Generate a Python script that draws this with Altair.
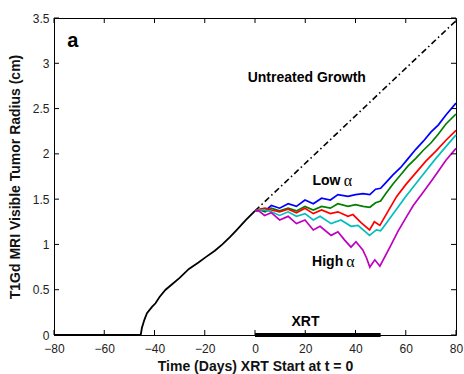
import altair as alt
import pandas as pd

# ---- data ----
pre_t = [-80, -45.5, -45, -44, -43, -41, -39.6, -38, -35.6, -33, -30, -26.3, -22.5, -19.6, -16, -13, -10, -7.6, -3.6, 0]
pre_r = [0, 0, 0.08, 0.17, 0.24, 0.31, 0.35, 0.42, 0.50, 0.56, 0.63, 0.73, 0.80, 0.86, 0.93, 1.00, 1.08, 1.15, 1.27, 1.37]

untreated_t = [0, 80]
untreated_r = [1.37, 3.47]

blue_t = [0, 2, 4, 6.5, 9.8, 13.2, 16.5, 19.9, 23.2, 26.5, 30, 33, 37, 40, 43, 45.7, 48, 50, 52, 55, 58, 61, 64, 67, 70, 73, 76, 80]
blue_r = [1.37, 1.38, 1.37, 1.43, 1.40, 1.45, 1.42, 1.49, 1.45, 1.51, 1.49, 1.55, 1.53, 1.55, 1.56, 1.55, 1.61, 1.62, 1.68, 1.77, 1.85, 1.95, 2.05, 2.14, 2.24, 2.32, 2.43, 2.56]

green_t = [0, 2, 4, 6.5, 9.8, 13.2, 16.5, 19.9, 23.2, 26.5, 30, 33, 37, 40, 43, 45.7, 48, 50, 52, 55, 58, 61, 64, 67, 70, 73, 76, 80]
green_r = [1.37, 1.38, 1.36, 1.40, 1.37, 1.40, 1.37, 1.42, 1.38, 1.42, 1.40, 1.45, 1.42, 1.44, 1.42, 1.41, 1.46, 1.48, 1.56, 1.67, 1.77, 1.87, 1.95, 2.04, 2.12, 2.22, 2.33, 2.44]

red_t = [0, 2, 4, 6.5, 9.8, 13.2, 16.5, 19.9, 23.2, 26.5, 30, 33, 37, 39, 42.2, 45.6, 47.5, 49.7, 52.4, 56.4, 60, 64, 68, 72, 76, 80]
red_r = [1.37, 1.39, 1.40, 1.38, 1.36, 1.39, 1.35, 1.40, 1.34, 1.38, 1.34, 1.36, 1.31, 1.33, 1.24, 1.16, 1.25, 1.21, 1.34, 1.53, 1.66, 1.79, 1.92, 2.03, 2.15, 2.26]

cyan_t = [0, 2, 4, 6.5, 9.8, 13.2, 16.5, 19.9, 23.2, 25.9, 30.3, 34.2, 38.2, 41, 45.6, 48.3, 50, 51.6, 55, 60, 64, 68, 72, 76, 80]
cyan_r = [1.37, 1.38, 1.38, 1.36, 1.32, 1.36, 1.31, 1.34, 1.27, 1.31, 1.23, 1.27, 1.20, 1.21, 1.10, 1.16, 1.15, 1.21, 1.34, 1.53, 1.67, 1.81, 1.95, 2.08, 2.21]

magenta_t = [0, 1.5, 3.8, 6.5, 9.8, 13.2, 16.5, 19.9, 23.2, 25.9, 30.3, 33, 35.6, 38.2, 40.2, 42.9, 44.4, 45.7, 47.7, 49.7, 53.7, 57, 60.4, 63, 67, 71, 76, 80]
magenta_r = [1.37, 1.37, 1.32, 1.35, 1.27, 1.31, 1.23, 1.27, 1.16, 1.20, 1.10, 1.14, 1.05, 0.97, 1.03, 0.94, 0.85, 0.75, 0.83, 0.76, 0.97, 1.15, 1.31, 1.43, 1.58, 1.73, 1.93, 2.06]

series_names = ["Blue", "Green", "Red", "Cyan", "Magenta"]
series_colors = ["#0000ff", "#008000", "#ff0000", "#00bfbf", "#bf00bf"]

xrt_start = [0]
xrt_end = [50]

x_ticks = [-80, -60, -40, -20, 0, 20, 40, 60, 80]
y_ticks = [0, 0.5, 1, 1.5, 2, 2.5, 3, 3.5]

# ---- tables ----
pre_df = pd.DataFrame({"t": pre_t, "r": pre_r})
unt_df = pd.DataFrame({"t": untreated_t, "r": untreated_r})
frames = []
for name, tt, rr in zip(series_names,
                        [blue_t, green_t, red_t, cyan_t, magenta_t],
                        [blue_r, green_r, red_r, cyan_r, magenta_r]):
    frames.append(pd.DataFrame({"t": tt, "r": rr, "s": name}))
ser_df = pd.concat(frames, ignore_index=True)
xrt_df = pd.DataFrame({"t0": xrt_start, "t1": xrt_end, "r": [0]})
xt_df = pd.DataFrame({"t": x_ticks})
yt_df = pd.DataFrame({"r": y_ticks})

W, H = 402, 317
xs = alt.Scale(domain=[-80, 80], nice=False, zero=False)
ys = alt.Scale(domain=[0, 3.5], nice=False, zero=False)

FONT = "Liberation Sans"

x_axis = alt.Axis(values=x_ticks, ticks=False, domain=False, grid=False, format="d",
                  labelPadding=8, labelFontSize=12, labelColor="#222222", labelFont=FONT,
                  title="Time (Days) XRT Start at t = 0", titleFontSize=14, titleFont=FONT,
                  titleFontWeight="bold", titleColor="#111111",
                  titleX=W / 2, titleY=31, titleBaseline="middle", titleAnchor="middle",
                  labelFlush=False, labelOverlap=False)
y_axis = alt.Axis(values=y_ticks, ticks=False, domain=False, grid=False, format="~r",
                  labelPadding=5, labelFontSize=12, labelColor="#222222", labelFont=FONT,
                  title="T1Gd MRI Visible Tumor Radius (cm)", titleFontSize=14, titleFont=FONT,
                  titleFontWeight="bold", titleColor="#111111",
                  titleX=-39, titleY=H / 2, titleAngle=-90, titleBaseline="middle", titleAlign="center",
                  labelFlush=False, labelOverlap=False)

pre_line = alt.Chart(pre_df).mark_line(color="black", strokeWidth=1.8).encode(
    x=alt.X("t:Q", scale=xs, axis=x_axis),
    y=alt.Y("r:Q", scale=ys, axis=y_axis),
)

unt_line = alt.Chart(unt_df).mark_line(color="black", strokeWidth=1.6, strokeDash=[6, 3, 1.5, 3]).encode(
    x=alt.X("t:Q", scale=xs), y=alt.Y("r:Q", scale=ys)
)

ser_lines = alt.Chart(ser_df).mark_line(strokeWidth=1.7).encode(
    x=alt.X("t:Q", scale=xs), y=alt.Y("r:Q", scale=ys),
    color=alt.Color("s:N", scale=alt.Scale(domain=series_names, range=series_colors), legend=None),
    order=alt.Order("t:Q"),
)

xrt_bar = alt.Chart(xrt_df).mark_rule(color="black", strokeWidth=4).encode(
    x=alt.X("t0:Q", scale=xs), x2="t1:Q", y=alt.Y("r:Q", scale=ys)
)

tick_len = 5
top_ticks = alt.Chart(xt_df).mark_rule(color="black", strokeWidth=1).encode(
    x=alt.X("t:Q", scale=xs), y=alt.value(0), y2=alt.value(tick_len))
bot_ticks = alt.Chart(xt_df).mark_rule(color="black", strokeWidth=1).encode(
    x=alt.X("t:Q", scale=xs), y=alt.value(H), y2=alt.value(H - tick_len))
left_ticks = alt.Chart(yt_df).mark_rule(color="black", strokeWidth=1).encode(
    y=alt.Y("r:Q", scale=ys), x=alt.value(0), x2=alt.value(tick_len))
right_ticks = alt.Chart(yt_df).mark_rule(color="black", strokeWidth=1).encode(
    y=alt.Y("r:Q", scale=ys), x=alt.value(W), x2=alt.value(W - tick_len))


def label(text, t, r, size=14, align="center", font=FONT, weight="bold"):
    return alt.Chart().mark_text(text=text, fontSize=size, font=font, fontWeight=weight,
                                 align=align, baseline="middle", color="black").encode(
        x=alt.datum(t, scale=xs), y=alt.datum(r, scale=ys))


texts = [
    label("a", -72.5, 3.25, size=20),
    label("Untreated Growth", 20.6, 2.84),
    label("Low", 34.0, 1.70, align="right"),
    label("α", 35.3, 1.70, size=16, align="left", font="Liberation Serif", weight="normal"),
    label("High", 35.1, 0.81, align="right"),
    label("α", 36.3, 0.81, size=16, align="left", font="Liberation Serif", weight="normal"),
    label("XRT", 20.1, 0.14),
]

chart = alt.layer(
    pre_line, unt_line, ser_lines, xrt_bar,
    top_ticks, bot_ticks, left_ticks, right_ticks,
    *texts
).properties(
    width=W, height=H,
    autosize=alt.AutoSizeParams(type="none"),
    padding={"left": 54, "top": 18, "right": 8, "bottom": 39},
    background="white",
).configure_view(stroke="black", strokeWidth=1)

chart.save("out.html", embed_options={"renderer": "svg", "actions": False})
